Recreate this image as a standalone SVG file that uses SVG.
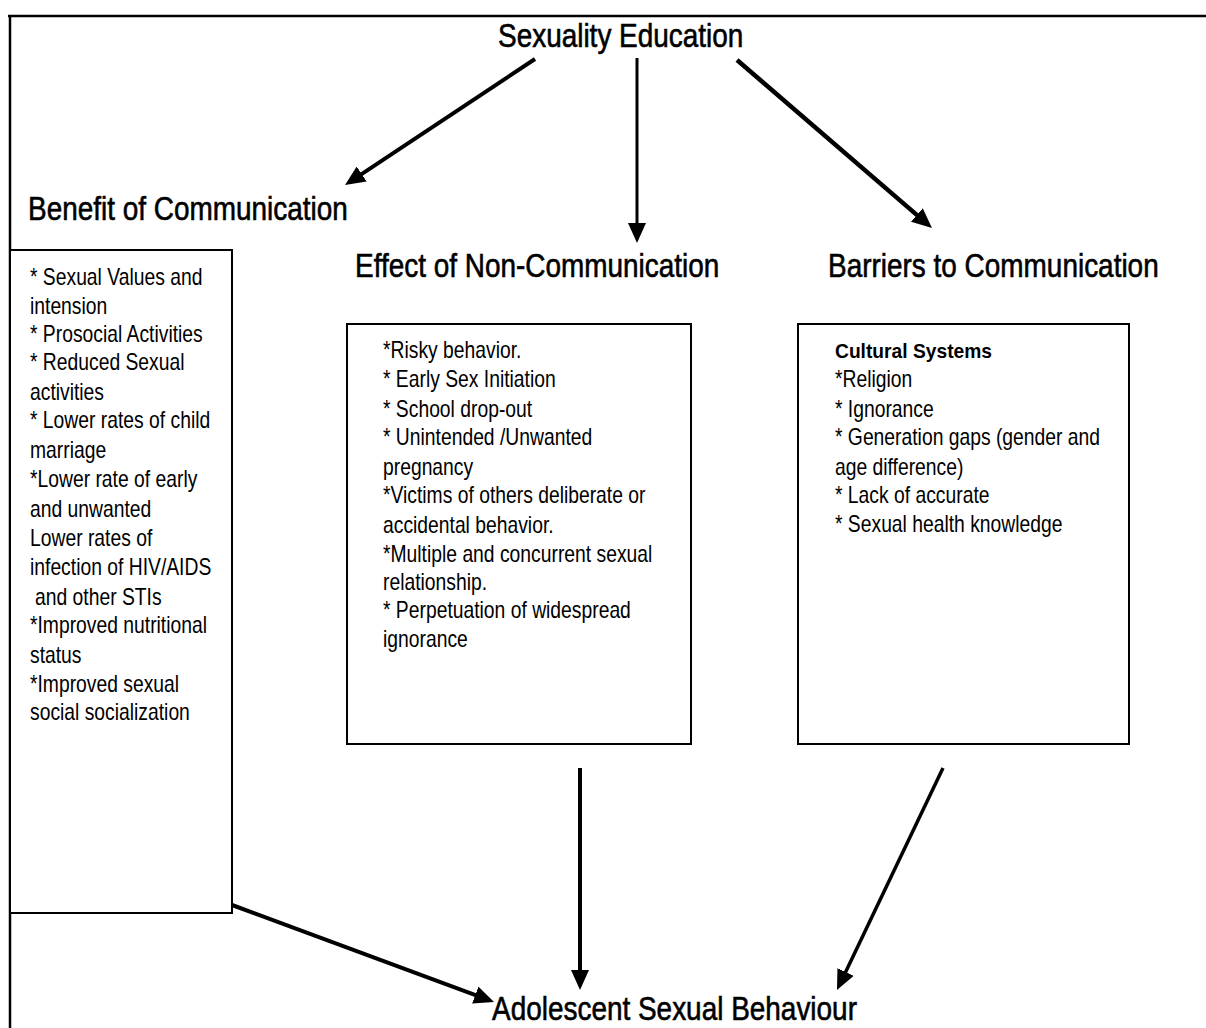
<svg xmlns="http://www.w3.org/2000/svg" width="1206" height="1028" viewBox="0 0 1206 1028">
<style>
text{font-family:"Liberation Sans",Arial,sans-serif;fill:#000}
.h{font-size:33px;stroke:#000;stroke-width:0.6}
.b{font-size:23px}
.cb{font-size:21px;font-weight:bold}
.box{fill:#fff;stroke:#000;stroke-width:2}
.frame{stroke:#000;stroke-width:2.5;fill:none}
.c{stroke:#000;fill:none;stroke-linecap:butt}
</style>
<defs>
<marker id="ah" viewBox="0 0 20 18" refX="6" refY="9" markerWidth="20" markerHeight="18" markerUnits="userSpaceOnUse" orient="auto">
<path d="M0,0 L20,9 L0,18 z" fill="#000"/>
</marker>
</defs>
<rect width="1206" height="1028" fill="#fff"/>
<g id="frame">
<line class="frame" x1="8" y1="16" x2="1206" y2="16"/>
<line class="frame" x1="10" y1="15" x2="10" y2="1028"/>
</g>
<g id="sexuality-education">
<text class="h" transform="translate(498 47) scale(0.847 1)">Sexuality Education</text>
</g>
<g id="benefit-of-communication">
<text class="h" transform="translate(28 220) scale(0.847 1)">Benefit of Communication</text>
<rect class="box" x="10" y="250" width="222" height="663"/>
<g transform="translate(30 0) scale(0.84 1)">
<text class="b" x="0" y="285">* Sexual Values and</text>
<text class="b" x="0" y="314">intension</text>
<text class="b" x="0" y="342">* Prosocial Activities</text>
<text class="b" x="0" y="370">* Reduced Sexual</text>
<text class="b" x="0" y="400">activities</text>
<text class="b" x="0" y="428">* Lower rates of child</text>
<text class="b" x="0" y="458">marriage</text>
<text class="b" x="0" y="487">*Lower rate of early</text>
<text class="b" x="0" y="517">and unwanted</text>
<text class="b" x="0" y="546">Lower rates of</text>
<text class="b" x="0" y="575">infection of HIV/AIDS</text>
<text class="b" x="6" y="605">and other STIs</text>
<text class="b" x="0" y="633">*Improved nutritional</text>
<text class="b" x="0" y="663">status</text>
<text class="b" x="0" y="692">*Improved sexual</text>
<text class="b" x="0" y="720">social socialization</text>
</g>
</g>
<g id="effect-of-non-communication">
<text class="h" transform="translate(355 277) scale(0.847 1)">Effect of Non-Communication</text>
<rect class="box" x="347" y="324" width="344" height="420"/>
<g transform="translate(383 0) scale(0.84 1)">
<text class="b" x="0" y="358">*Risky behavior.</text>
<text class="b" x="0" y="387">* Early Sex Initiation</text>
<text class="b" x="0" y="417">* School drop-out</text>
<text class="b" x="0" y="445">* Unintended /Unwanted</text>
<text class="b" x="0" y="475">pregnancy</text>
<text class="b" x="0" y="503">*Victims of others deliberate or</text>
<text class="b" x="0" y="533">accidental behavior.</text>
<text class="b" x="0" y="562">*Multiple and concurrent sexual</text>
<text class="b" x="0" y="590">relationship.</text>
<text class="b" x="0" y="618">* Perpetuation of widespread</text>
<text class="b" x="0" y="647">ignorance</text>
</g>
</g>
<g id="barriers-to-communication">
<text class="h" transform="translate(828 277) scale(0.847 1)">Barriers to Communication</text>
<rect class="box" x="798" y="324" width="331" height="420"/>
<text class="cb" x="835" y="358" textLength="157" lengthAdjust="spacingAndGlyphs">Cultural Systems</text>
<g transform="translate(835 0) scale(0.84 1)">
<text class="b" x="0" y="387">*Religion</text>
<text class="b" x="0" y="417">* Ignorance</text>
<text class="b" x="0" y="445">* Generation gaps (gender and</text>
<text class="b" x="0" y="475">age difference)</text>
<text class="b" x="0" y="503">* Lack of accurate</text>
<text class="b" x="0" y="532">* Sexual health knowledge</text>
</g>
</g>
<g id="adolescent-sexual-behaviour">
<text class="h" transform="translate(492 1020) scale(0.847 1)">Adolescent Sexual Behaviour</text>
</g>
<g id="connectors">
<line class="c" x1="535" y1="59" x2="356.7" y2="177.3" stroke-width="4" marker-end="url(#ah)"/>
<line class="c" x1="637" y1="58" x2="637" y2="229" stroke-width="3" marker-end="url(#ah)"/>
<line class="c" x1="737" y1="60" x2="921.4" y2="218.9" stroke-width="4.5" marker-end="url(#ah)"/>
<line class="c" x1="232" y1="905" x2="480.9" y2="997.1" stroke-width="4" marker-end="url(#ah)"/>
<line class="c" x1="580" y1="768" x2="580" y2="976" stroke-width="4" marker-end="url(#ah)"/>
<line class="c" x1="943" y1="768" x2="843" y2="977.4" stroke-width="3.5" marker-end="url(#ah)"/>
</g>
</svg>
